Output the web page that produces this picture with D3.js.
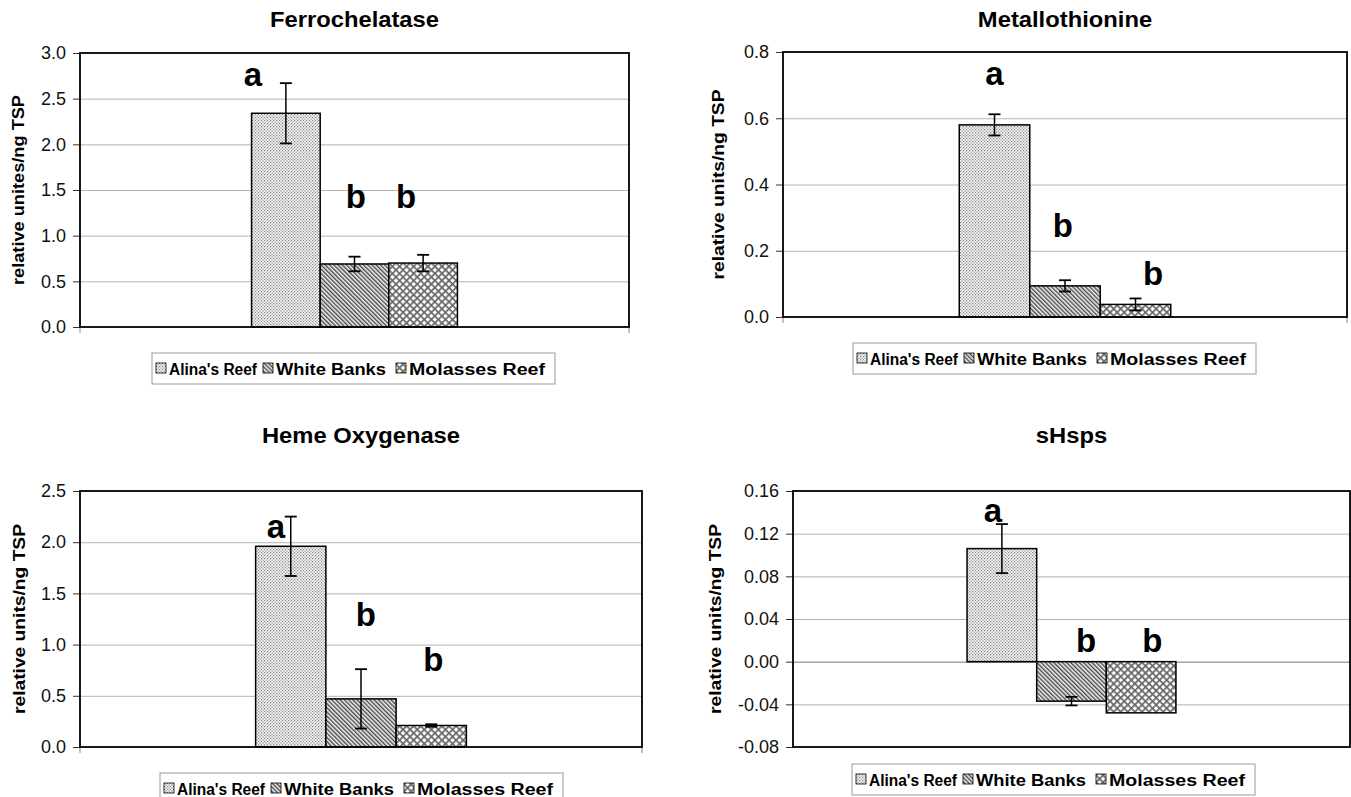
<!DOCTYPE html>
<html>
<head>
<meta charset="utf-8">
<script src="https://cdn.jsdelivr.net/npm/d3@7"></script>
<style>
  body { margin: 0; background: #fff; }
  svg { display: block; font-family: "Liberation Sans", Arial, sans-serif; }
</style>
</head>
<body>
<svg id="canvas" width="1351" height="797"></svg>
<script>
// data
const sites = ["Alina's Reef", "White Banks", "Molasses Reef"];
const titles = ["Ferrochelatase", "Metallothionine", "Heme Oxygenase", "sHsps"];
const yLabels = ["relative unites/ng TSP", "relative units/ng TSP", "relative units/ng TSP", "relative units/ng TSP"];

const ferroMean = [2.34, 0.69, 0.70];
const ferroErr = [0.33, 0.08, 0.09];
const metalMean = [0.58, 0.094, 0.038];
const metalErr = [0.032, 0.017, 0.018];
const hemeMean = [1.96, 0.47, 0.21];
const hemeErr = [0.29, 0.29, 0.012];
const hspMean = [0.106, -0.037, -0.048];
const hspErr = [0.023, 0.004, 0];

const ferroTicks = [0, 0.5, 1.0, 1.5, 2.0, 2.5, 3.0];
const metalTicks = [0, 0.2, 0.4, 0.6, 0.8];
const hemeTicks = [0, 0.5, 1.0, 1.5, 2.0, 2.5];
const hspTicks = [-0.08, -0.04, 0, 0.04, 0.08, 0.12, 0.16];

const ferroLetters = ["a", "b", "b"];
const metalLetters = ["a", "b", "b"];
const hemeLetters = ["a", "b", "b"];
const hspLetters = ["a", "b", "b"];

// layout of each panel (pixels), letter spots as [bar offset, y value]
const panels = [
  { mean: ferroMean, err: ferroErr, ticks: ferroTicks, digits: 1, letters: ferroLetters,
    L: 80, R: 629, T: 53, B: 327, titleY: 27, labelX: 18, legX: 152, legY: 353,
    letterAt: [[-0.48, 2.64], [0.02, 1.30], [-0.25, 1.30]] },
  { mean: metalMean, err: metalErr, ticks: metalTicks, digits: 1, letters: metalLetters,
    L: 783, R: 1347, T: 52, B: 317, titleY: 27, labelX: 718, legX: 853, legY: 343,
    letterAt: [[0, 0.70], [-0.03, 0.242], [0.25, 0.097]] },
  { mean: hemeMean, err: hemeErr, ticks: hemeTicks, digits: 1, letters: hemeLetters,
    L: 80, R: 642, T: 491, B: 747, titleY: 443, labelX: 19, legX: 160, legY: 773,
    letterAt: [[-0.21, 2.04], [0.07, 1.18], [0.03, 0.74]] },
  { mean: hspMean, err: hspErr, ticks: hspTicks, digits: 2, letters: hspLetters,
    L: 793, R: 1350, T: 491, B: 747, titleY: 443, labelX: 715, legX: 852, legY: 764,
    letterAt: [[-0.13, 0.131], [0.21, 0.009], [0.16, 0.009]] }
];

const svg = d3.select("#canvas");
const defs = svg.append("defs");

// fill patterns
const pDots = defs.append("pattern").attr("id", "p0")
  .attr("patternUnits", "userSpaceOnUse").attr("width", 3).attr("height", 3);
pDots.append("rect").attr("width", 3).attr("height", 3).attr("fill", "#f6f6f6");
pDots.append("rect").attr("width", 1.2).attr("height", 1.2).attr("fill", "#858585");
pDots.append("rect").attr("x", 1.5).attr("y", 1.5).attr("width", 1.2).attr("height", 1.2).attr("fill", "#858585");

const pDiag = defs.append("pattern").attr("id", "p1")
  .attr("patternUnits", "userSpaceOnUse").attr("width", 3).attr("height", 3)
  .attr("patternTransform", "rotate(-45)");
pDiag.append("rect").attr("width", 3).attr("height", 3).attr("fill", "#f2f2f2");
pDiag.append("rect").attr("width", 1.4).attr("height", 3).attr("fill", "#474747");

const pCross = defs.append("pattern").attr("id", "p2")
  .attr("patternUnits", "userSpaceOnUse").attr("width", 5).attr("height", 5)
  .attr("patternTransform", "rotate(45)");
pCross.append("rect").attr("width", 5).attr("height", 5).attr("fill", "#ffffff");
pCross.append("rect").attr("width", 1.7).attr("height", 5).attr("fill", "#666");
pCross.append("rect").attr("width", 5).attr("height", 1.7).attr("fill", "#666");

const fills = ["url(#p0)", "url(#p1)", "url(#p2)"];

// legend item spots inside the box
const legItemX = [4, 111, 244];
const legTextLen = [88, 110, 136];

// widen text a little, the source figure is stretched sideways
function stretch(sel, f) {
  sel.each(function () {
    const w = this.getComputedTextLength();
    this.setAttribute("textLength", w * f);
    this.setAttribute("lengthAdjust", "spacingAndGlyphs");
  });
}

panels.forEach((p, k) => {
  const g = svg.append("g");
  const lo = d3.min(p.ticks), hi = d3.max(p.ticks);

  const y = d3.scaleLinear().domain([lo, hi]).range([p.B, p.T]);
  const x0 = d3.scaleBand().domain(["group"]).range([p.L, p.R])
    .paddingInner(0).paddingOuter(5 / 6);
  const x1 = d3.scaleBand().domain(sites).range([0, x0.bandwidth()]);
  const bw = x1.bandwidth();
  const cx = i => x0("group") + x1(sites[i]) + bw / 2;

  // grid lines
  g.append("g")
    .attr("transform", `translate(${p.L},0)`)
    .call(d3.axisLeft(y).tickValues(p.ticks.filter(t => t !== lo && t !== hi))
      .tickSize(-(p.R - p.L)).tickFormat(""))
    .call(a => a.select(".domain").remove())
    .selectAll("line").attr("stroke", t => (t === 0 && lo < 0) ? "#777" : "#b4b4b4");

  // y axis ticks + labels
  g.append("g")
    .attr("transform", `translate(${p.L},0)`)
    .call(d3.axisLeft(y).tickValues(p.ticks).tickSize(7).tickPadding(7)
      .tickFormat(d => d.toFixed(p.digits)))
    .call(a => a.select(".domain").remove())
    .call(a => a.selectAll("line").attr("stroke", "#333"))
    .call(a => a.selectAll("text")
      .attr("font-size", 18).attr("fill", "#111")
      .attr("font-family", "'Liberation Sans', Arial, sans-serif"));

  // category end ticks
  if (lo >= 0) {
    g.selectAll(".cat-tick").data([p.L, p.R]).enter().append("line")
      .attr("x1", d => d).attr("x2", d => d)
      .attr("y1", p.B).attr("y2", p.B + 6)
      .attr("stroke", "#888");
  }

  // bars
  g.selectAll(".bar").data(p.mean).enter().append("rect")
    .attr("x", (d, i) => x0("group") + x1(sites[i]))
    .attr("y", d => y(Math.max(0, d)))
    .attr("width", bw)
    .attr("height", d => Math.abs(y(d) - y(0)))
    .attr("fill", (d, i) => fills[i])
    .attr("stroke", "#000").attr("stroke-width", 1.5);

  // error bars
  const eb = g.selectAll(".err").data(p.mean.map((m, i) => ({ m, e: p.err[i], i })).filter(d => d.e > 0))
    .enter().append("g");
  eb.append("line")
    .attr("x1", d => cx(d.i)).attr("x2", d => cx(d.i))
    .attr("y1", d => y(d.m + d.e)).attr("y2", d => y(d.m - d.e))
    .attr("stroke", "#000").attr("stroke-width", 1.5);
  eb.selectAll(".cap").data(d => [d.m + d.e, d.m - d.e].map(v => ({ v, i: d.i })))
    .enter().append("line")
    .attr("x1", d => cx(d.i) - 6).attr("x2", d => cx(d.i) + 6)
    .attr("y1", d => y(d.v)).attr("y2", d => y(d.v))
    .attr("stroke", "#000").attr("stroke-width", 1.8);

  // frame
  g.append("rect")
    .attr("x", p.L).attr("y", p.T)
    .attr("width", p.R - p.L).attr("height", p.B - p.T)
    .attr("fill", "none").attr("stroke", "#000").attr("stroke-width", 1.8);

  // significance letters
  g.selectAll(".sig").data(p.letters).enter().append("text")
    .attr("x", (d, i) => cx(i) + p.letterAt[i][0] * bw)
    .attr("y", (d, i) => y(p.letterAt[i][1]))
    .attr("text-anchor", "middle")
    .attr("font-size", 33).attr("font-weight", "bold")
    .text(d => d);

  // title
  g.append("text")
    .attr("x", x0("group") + x0.bandwidth() / 2)
    .attr("y", p.titleY)
    .attr("text-anchor", "middle")
    .attr("font-size", 22).attr("font-weight", "bold")
    .text(titles[k])
    .call(s => stretch(s, 1.08));

  // y axis title
  g.append("text")
    .attr("transform", `translate(${p.labelX},${(p.T + p.B) / 2}) rotate(-90)`)
    .attr("dy", "0.35em")
    .attr("text-anchor", "middle")
    .attr("font-size", 16).attr("font-weight", "bold")
    .attr("textLength", 190).attr("lengthAdjust", "spacingAndGlyphs")
    .text(yLabels[k]);

  // legend
  const lg = g.append("g").attr("transform", `translate(${p.legX},${p.legY})`);
  lg.append("rect").attr("width", 403).attr("height", 31)
    .attr("fill", "#fff").attr("stroke", "#999");
  const items = lg.selectAll(".item").data(sites).enter().append("g")
    .attr("transform", (d, i) => `translate(${legItemX[i]},10)`);
  items.append("rect").attr("width", 10).attr("height", 10)
    .attr("fill", (d, i) => fills[i]).attr("stroke", "#000").attr("stroke-width", 0.8);
  items.append("text")
    .attr("x", 13).attr("y", 11.5)
    .attr("font-size", 16).attr("font-weight", "bold")
    .attr("textLength", (d, i) => legTextLen[i]).attr("lengthAdjust", "spacingAndGlyphs")
    .text(d => d);
});
</script>
</body>
</html>
